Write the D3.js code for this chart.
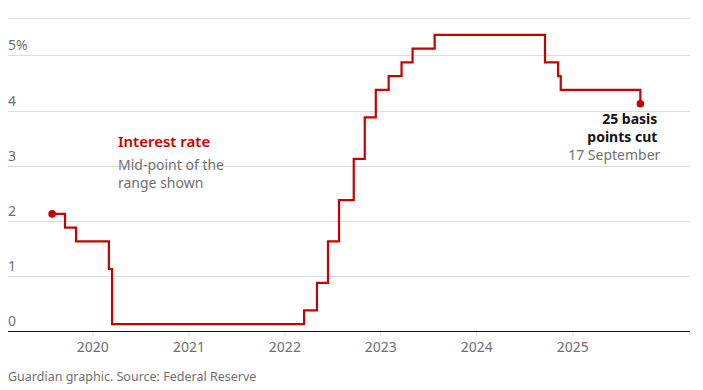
<!DOCTYPE html>
<html>
<head>
<meta charset="utf-8">
<script src="https://cdn.jsdelivr.net/npm/d3@7"></script>
<style>
  html, body { margin: 0; padding: 0; background: #fff; }
  svg { display: block; font-family: "Noto Sans", "Open Sans", sans-serif; }
</style>
</head>
<body>
<svg id="chart" width="703" height="390"></svg>
<script>
// Fed funds target range mid-point (%) — step start dates as drawn
const dates = ["2019-08-01","2019-09-19","2019-10-31","2020-03-04","2020-03-16","2022-03-17","2022-05-05","2022-06-16","2022-07-28","2022-09-22","2022-11-03","2022-12-15","2023-02-02","2023-03-23","2023-05-04","2023-07-27","2024-09-19","2024-11-08","2024-11-18","2025-09-17"];
const rates = [2.125,1.875,1.625,1.125,0.125,0.375,0.875,1.625,2.375,3.125,3.875,4.375,4.625,4.875,5.125,5.375,4.875,4.625,4.375,4.125];
const yTicks = [0,1,2,3,4,5];
const yTickLabels = ["0","1","2","3","4","5%"];
const xTickYears = [2020,2021,2022,2023,2024,2025];

(function () {
const parse = d3.timeParse("%Y-%m-%d");
const data = dates.map((d,i) => ({date: parse(d), value: rates[i]}));

const svg = d3.select("#chart");
const mLeft = 8, mRight = 690, mTop = 18, mBottom = 331;

const x = d3.scaleTime()
  .domain([parse("2019-02-14"), parse("2026-03-25")])
  .range([mLeft, mRight]);
const y = d3.scaleLinear()
  .domain([0, 5.68])
  .range([mBottom, mTop]);

// gridlines (including top rule)
const gridVals = yTicks.slice(1).concat([5.68]);
svg.append("g").selectAll("line").data(gridVals).join("line")
  .attr("x1", mLeft).attr("x2", mRight)
  .attr("y1", d => Math.round(y(d)) + 0.5).attr("y2", d => Math.round(y(d)) + 0.5)
  .attr("stroke", "#dcdcdc").attr("stroke-width", 1);

// y labels above gridlines
svg.append("g").selectAll("text").data(yTicks).join("text")
  .attr("x", mLeft).attr("y", d => y(d) - 5)
  .attr("fill", "#707070").attr("font-size", 14)
  .text((d,i) => yTickLabels[i]);

// x axis
const xAxis = d3.axisBottom(x)
  .tickValues(xTickYears.map(yr => new Date(yr, 0, 1)))
  .tickFormat(d3.timeFormat("%Y"))
  .tickSize(5).tickPadding(6);
const gx = svg.append("g").attr("transform", `translate(0,${mBottom})`).call(xAxis);
gx.select(".domain").remove();
gx.selectAll(".tick line").attr("stroke", "#dcdcdc");
gx.selectAll(".tick text").attr("fill", "#707070").attr("font-size", 14)
  .attr("font-family", "\"Noto Sans\", sans-serif");
svg.append("line").attr("x1", mLeft).attr("x2", mRight)
  .attr("y1", mBottom + 0.5).attr("y2", mBottom + 0.5)
  .attr("stroke", "#121212").attr("stroke-width", 1);

// step line
const line = d3.line().x(d => x(d.date)).y(d => y(d.value)).curve(d3.curveStepAfter);
svg.append("path").datum(data)
  .attr("d", line).attr("fill", "none")
  .attr("stroke", "#c70000").attr("stroke-width", 2.2)
  .attr("stroke-linejoin", "miter");

// end dots
svg.append("g").selectAll("circle").data([data[0], data[data.length-1]]).join("circle")
  .attr("cx", d => x(d.date)).attr("cy", d => y(d.value)).attr("r", 3.8)
  .attr("fill", "#c70000");

// annotation: Interest rate
const ann = svg.append("g");
ann.append("text").attr("x", 118).attr("y", 147)
  .attr("fill", "#c70000").attr("font-size", 15).attr("font-weight", 600)
  .text("Interest rate");
ann.append("text").attr("x", 118).attr("y", 170)
  .attr("fill", "#707070").attr("font-size", 14).text("Mid-point of the");
ann.append("text").attr("x", 118).attr("y", 188)
  .attr("fill", "#707070").attr("font-size", 14).text("range shown");

// end annotation
const last = data[data.length-1];
const ex = x(last.date) + 17;
svg.append("text").attr("x", ex).attr("y", 124).attr("text-anchor", "end")
  .attr("fill", "#121212").attr("font-size", 14).attr("font-weight", 700).text("25 basis");
svg.append("text").attr("x", ex).attr("y", 142).attr("text-anchor", "end")
  .attr("fill", "#121212").attr("font-size", 14).attr("font-weight", 700).text("points cut");
svg.append("text").attr("x", ex + 3).attr("y", 160).attr("text-anchor", "end")
  .attr("fill", "#707070").attr("font-size", 14).text("17 September");

// footer
svg.append("text").attr("x", mLeft).attr("y", 381)
  .attr("fill", "#707070").attr("font-size", 12.5)
  .text("Guardian graphic. Source: Federal Reserve");
})();
</script>
</body>
</html>
